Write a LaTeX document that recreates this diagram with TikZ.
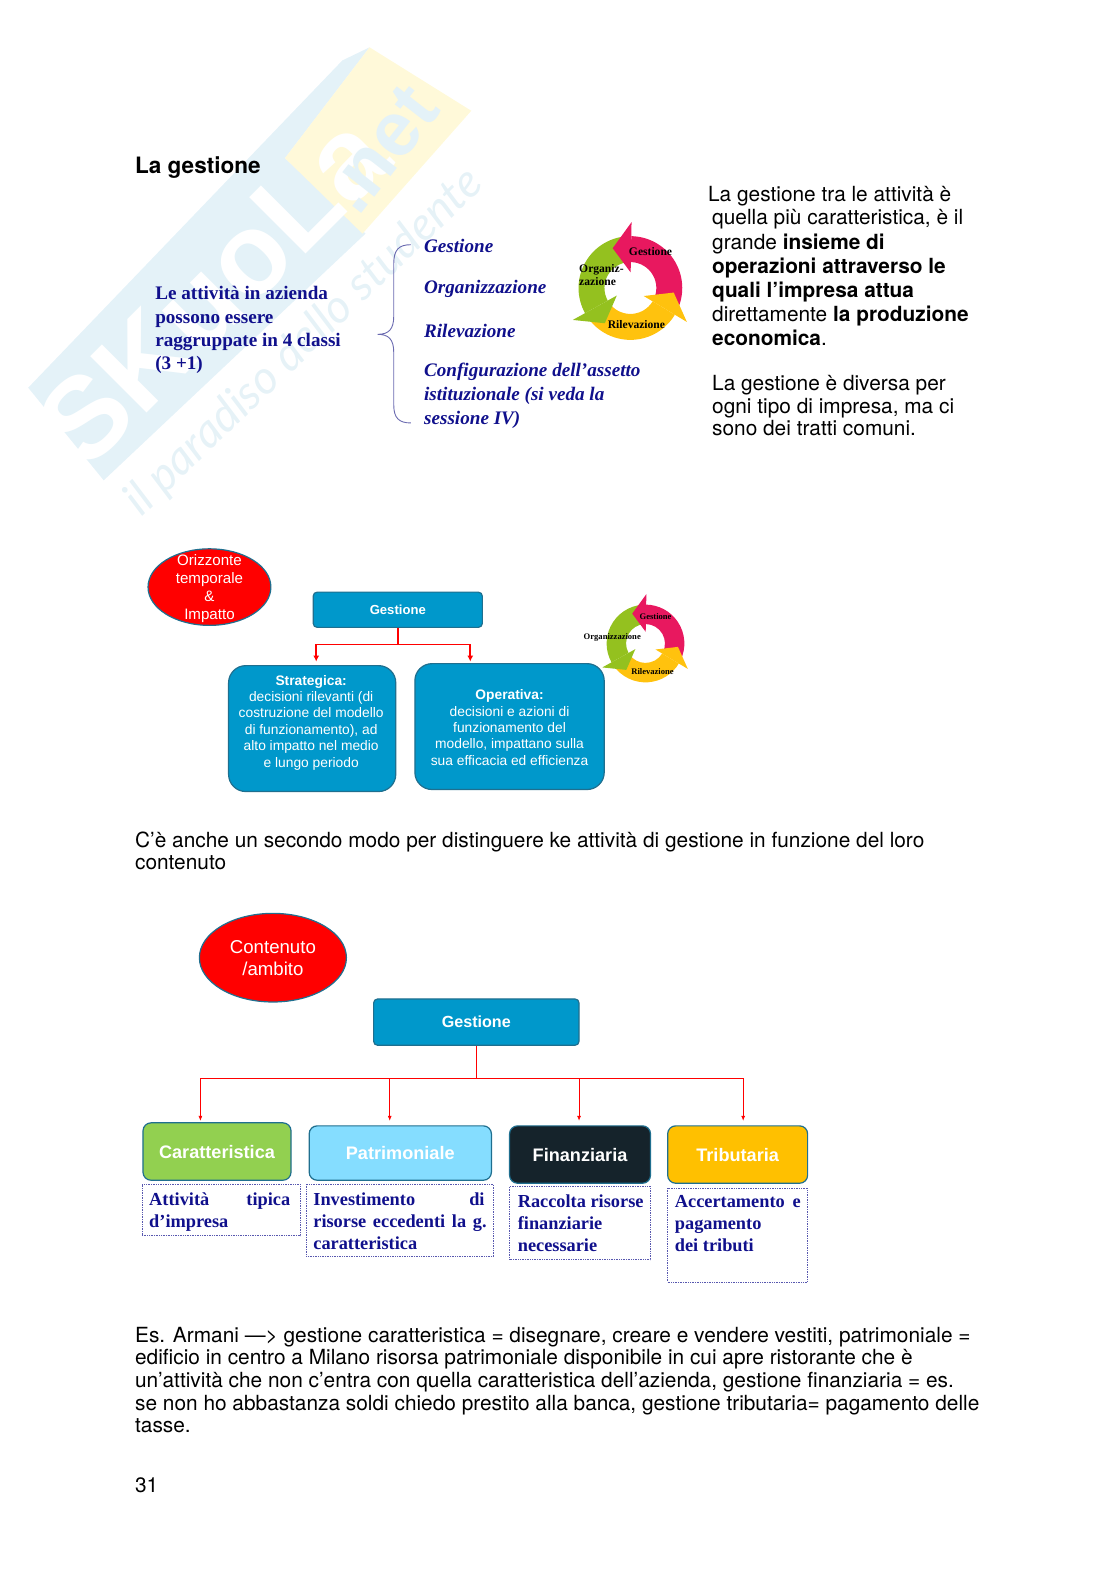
\documentclass[tikz,border=0pt]{standalone}
\usepackage{fontspec}
\setmainfont{TeX Gyre Heros}
\newfontfamily\bluefont{Liberation Serif}
\newfontfamily\boxfont{Liberation Sans}
\newfontfamily\markfont{Lato}
\usetikzlibrary{arrows.meta,calc,shapes.geometric}
\definecolor{markblue}{HTML}{E4F2F8}
\definecolor{markyellow}{HTML}{FFF9D9}
\definecolor{markline}{HTML}{E6F2F7}
\definecolor{navytext}{HTML}{10108C}
\definecolor{bracecol}{HTML}{6A6AB0}
\definecolor{boxblue}{HTML}{0098CB}
\definecolor{boxedge}{HTML}{1F6F8F}
\definecolor{ringred}{HTML}{E8185F}
\definecolor{ringgreen}{HTML}{94C11F}
\definecolor{ringyellow}{HTML}{FFC20E}
\definecolor{kindgreen}{HTML}{92D050}
\definecolor{kindsky}{HTML}{85DDFF}
\definecolor{kinddark}{HTML}{15232B}
\definecolor{kindgold}{HTML}{FFC000}

\begin{document}
\begin{tikzpicture}[x=1pt,y=-1pt, every node/.style={inner sep=0pt},
  bodytext/.style={anchor=north west,align=left,font=\fontsize{20.7}{22.5}\selectfont},
  navytext/.style={anchor=north west,align=left,text=navytext,font=\bluefont\bfseries\fontsize{19}{23}\selectfont},
  navyitalic/.style={anchor=base west,align=left,text=navytext,font=\bluefont\bfseries\itshape\fontsize{19}{23.5}\selectfont},
  ringtext/.style={font=\bluefont\bfseries\fontsize{#1}{13}\selectfont,align=center},
  bubble/.style={ellipse,draw=boxedge,fill=red,line width=1.2pt},
  bubbletext/.style={text=white,align=center},
  topbox/.style={draw=boxedge,fill=boxblue,rounded corners=4pt,line width=1.2pt,text=white,
    font=\boxfont\bfseries\fontsize{13}{13}\selectfont},
  bigbox/.style={draw=boxedge,fill=boxblue,rounded corners=17pt,line width=1.2pt},
  bigtext/.style={text=white,align=center,font=\boxfont\fontsize{13.7}{16.3}\selectfont},
  kindbox/.style={draw=boxedge,rounded corners=8pt,line width=1.2pt,text=white,
    font=\boxfont\bfseries\fontsize{18}{18}\selectfont},
  notebox/.style={draw=navytext!70,densely dotted,line width=0.7pt,fill=white},
  notetext/.style={anchor=north west,align=left,text=navytext,font=\bluefont\bfseries\fontsize{18.2}{22}\selectfont},
  redthick/.style={draw=red,line width=1.8pt},
  redthin/.style={draw=red,line width=0.7pt}]
  \newcommand{\cyclering}[3]{
    \begin{scope}[shift={(#1,#2)},x=#3pt,y=#3pt]
      \foreach \ang/\col in {89/ringred,209/ringgreen,329/ringyellow}{
        \fill[\col] ({\ang-115}:1) arc[start angle=\ang-115,end angle=\ang,radius=1]
          -- (\ang:0.5) arc[start angle=\ang,end angle=\ang-115,radius=0.5] -- cycle;
      }
      \foreach \ang/\col in {89/ringred,209/ringgreen,329/ringyellow}{
        \fill[\col] (\ang:1.27) -- ({\ang+25}:0.84) -- (\ang:0.3) -- cycle;
      }
    \end{scope}
  }
  \useasboundingbox (0,0) rectangle (1108,1568);
  % watermark
  \fill[markblue] (28,385) -- (340,60) -- (367,47) -- (283,157) -- (363,232) -- (103,477) -- cycle;
  \fill[markyellow] (367,47) -- (468,110) -- (360,232) -- (283,157) -- cycle;
  \node[rotate=45,text=white,font=\boxfont\bfseries\fontsize{115}{115}\selectfont] (markname) at (212,288) {SKuoLa};
  \node[rotate=52,text=markblue,font=\boxfont\bfseries\fontsize{76}{76}\selectfont] (marknet) at (378,148) {.net};
  \node[rotate=44,text=markline,font=\markfont\itshape\fontsize{46}{46}\selectfont] (markline) at (302,340) {il paradiso dello studente};

  \node[anchor=west,font=\bfseries\fontsize{22.4}{22}\selectfont] (title) at (134,166.5) {La gestione};

  \node[navytext] (classi) at (154,284.5) {Le attività in azienda\\possono essere\\raggruppate in 4 classi\\(3 +1)};
  \draw[bracecol,line width=0.9pt] (408,243) .. controls (396,243) and (391,248) .. (391,262) -- (391,314)
    .. controls (391,327) and (386,332) .. (375,332) .. controls (386,332) and (391,337) .. (391,350)
    -- (391,402) .. controls (391,415) and (396,420) .. (408,420);
  \node[navyitalic] (itemone) at (421,251) {Gestione};
  \node[navyitalic] (itemtwo) at (421,291) {Organizzazione};
  \node[navyitalic] (itemthree) at (421,335) {Rilevazione};
  \node[navyitalic,anchor=north west] (itemfour) at (421,360.5) {Configurazione dell’assetto\\istituzionale (si veda la\\sessione IV)};

  \cyclering{626}{286}{51.5}
  \node[ringtext=11.5] (ringg) at (646,250) {Gestione};
  \node[ringtext=11.5,anchor=north west,align=left] (ringo) at (575,262) {Organiz-\\zazione};
  \node[ringtext=11.5] (ringr) at (632,322) {Rilevazione};

  \node[bodytext] (introa) at (703,184.5) {La gestione tra le attività è};
  \node[bodytext,font=\fontsize{20.7}{24}\selectfont] (introb) at (707,208) {quella più caratteristica, è il\\grande \textbf{insieme di}\\\textbf{operazioni attraverso le}\\\textbf{quali l’impresa attua}\\direttamente \textbf{la produzione}\\\textbf{economica}.};
  \node[bodytext] (introc) at (707,372.5) {La gestione è diversa per\\ogni tipo di impresa, ma ci\\sono dei tratti comuni.};

  \node[bubble,minimum width=122pt,minimum height=76pt] (orizzonte) at (208,583) {};
  \node[bubbletext,font=\boxfont\fontsize{15}{17.7}\selectfont] (orizzontetext) at (208,584.5) {Orizzonte\\temporale\\\&\\Impatto};
  \node[topbox,minimum width=168pt,minimum height=35pt] (gestionea) at (395,605.5) {Gestione};
  \node[bigbox,minimum width=166pt,minimum height=125pt] (strategica) at (310,723.5) {};
  \node[bigtext] (strategicatext) at (309,717.5) {\textbf{Strategica:}\\decisioni rilevanti (di\\costruzione del modello\\di funzionamento), ad\\alto impatto nel medio\\e lungo periodo};
  \node[bigbox,minimum width=188pt,minimum height=125pt] (operativa) at (506,721.5) {};
  \node[bigtext] (operativatext) at (506,722.5) {\textbf{Operativa:}\\decisioni e azioni di\\funzionamento del\\modello, impattano sulla\\sua efficacia ed efficienza};
  \coordinate (joina) at (395,640);
  \coordinate (tipstrat) at (314,657);
  \coordinate (tipoper) at (467,657);
  \draw[redthick] (gestionea.south) -- (joina);
  \draw[redthick,-{Latex[length=6pt,width=6pt]}] (joina) -| (tipstrat);
  \draw[redthick,-{Latex[length=6pt,width=6pt]}] (joina) -| (tipoper);

  \cyclering{641}{639}{38.6}
  \node[ringtext=8.5] (ringgb) at (651,612) {Gestione};
  \node[ringtext=8.5] (ringob) at (608,633) {Organizzazione};
  \node[ringtext=8.5] (ringrb) at (648,667) {Rilevazione};

  \node[bodytext] (middle) at (134,825.5) {C’è anche un secondo modo per distinguere ke attività di gestione in funzione del loro\\contenuto};

  \node[bubble,minimum width=146pt,minimum height=88pt] (contenuto) at (271,951) {};
  \node[bubbletext,font=\boxfont\fontsize{18.5}{22}\selectfont] (contenutotext) at (271,951) {Contenuto\\/ambito};
  \node[topbox,minimum width=204pt,minimum height=46pt,font=\boxfont\bfseries\fontsize{16}{16}\selectfont] (gestioneb) at (473,1015) {Gestione};
  \node[kindbox,fill=kindgreen,minimum width=147pt,minimum height=57pt] (caratt) at (215.5,1143.5) {Caratteristica};
  \node[kindbox,fill=kindsky,minimum width=181pt,minimum height=54pt] (patrim) at (397.5,1145) {Patrimoniale};
  \node[kindbox,fill=kinddark,minimum width=140pt,minimum height=57pt] (finanz) at (576,1146.5) {Finanziaria};
  \node[kindbox,fill=kindgold,minimum width=139pt,minimum height=57pt] (tribut) at (732.5,1146.5) {Tributaria};
  \coordinate (joinb) at (473,1071);
  \coordinate (tipcar) at (199,1113);
  \coordinate (tippat) at (387,1113);
  \coordinate (tipfin) at (575,1113);
  \coordinate (tiptri) at (738,1113);
  \draw[redthin] (gestioneb.south) -- (joinb);
  \foreach \tipname in {tipcar,tippat,tipfin,tiptri}{
    \draw[redthin,-{Latex[length=5pt,width=4pt]}] (joinb) -| (\tipname);
  }

  \node[notebox,minimum width=157pt,minimum height=51pt] (notecar) at (219.5,1201.5) {};
  \node[notebox,minimum width=186pt,minimum height=72pt] (notepat) at (397,1212) {};
  \node[notebox,minimum width=140pt,minimum height=73pt] (notefin) at (576,1214.5) {};
  \node[notebox,minimum width=139pt,minimum height=93pt] (notetri) at (732.5,1226.5) {};
  \node[notetext] (textcar) at (148,1184) {\hbox to 140pt{Attività\hfill tipica}\\d’impresa};
  \node[notetext] (textpat) at (311,1184) {\hbox to 170pt{Investimento\hfill di}\\\hbox to 172pt{risorse\hfill eccedenti\hfill la\hfill g.}\\caratteristica};
  \node[notetext] (textfin) at (514,1186) {Raccolta risorse\\finanziarie\\necessarie};
  \node[notetext] (texttri) at (670,1187) {\hbox to 125pt{Accertamento\hfill e}\\pagamento\\dei tributi};

  \node[bodytext] (closing) at (134,1317.5) {Es. Armani —> gestione caratteristica = disegnare, creare e vendere vestiti, patrimoniale =\\edificio in centro a Milano risorsa patrimoniale disponibile in cui apre ristorante che è\\un’attività che non c’entra con quella caratteristica dell’azienda, gestione finanziaria = es.\\se non ho abbastanza soldi chiedo prestito alla banca, gestione tributaria= pagamento delle\\tasse.};
  \node[anchor=west,font=\fontsize{20.7}{20}\selectfont] (pagenum) at (134,1475) {31};
\end{tikzpicture}
\end{document}
